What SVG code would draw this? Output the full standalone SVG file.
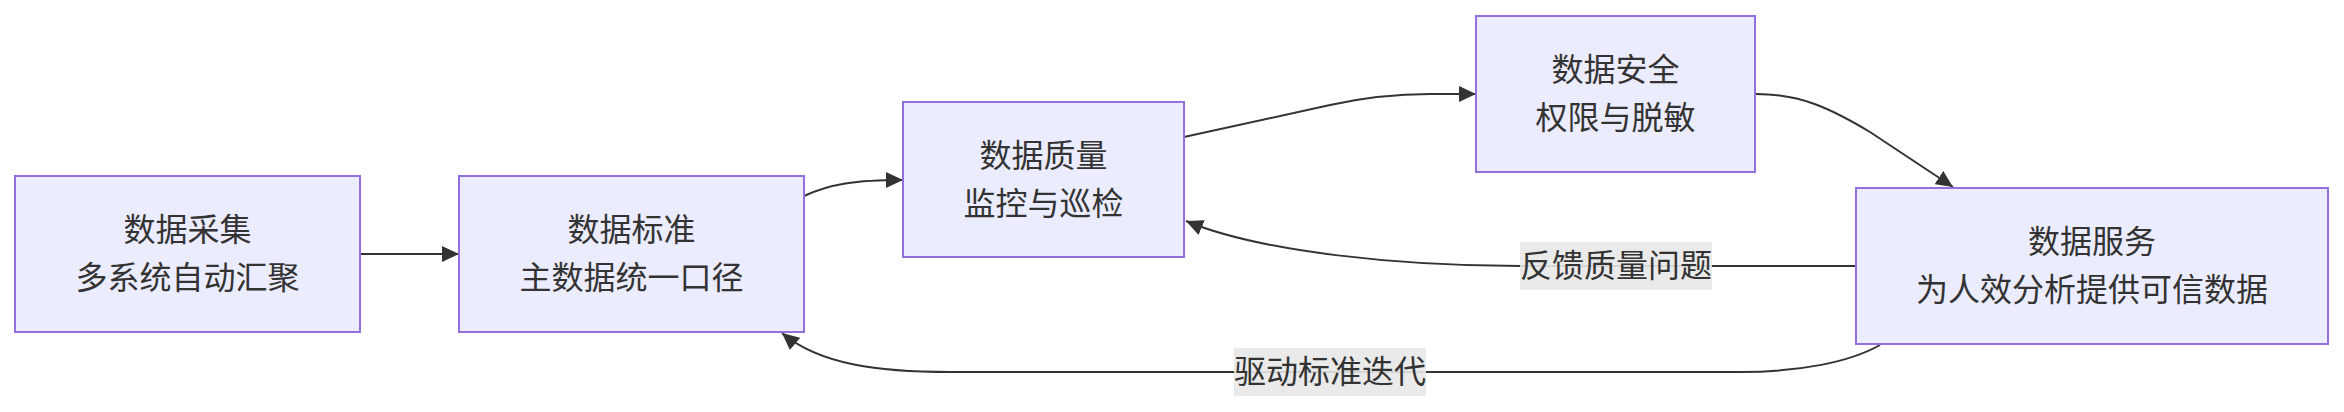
<svg xmlns="http://www.w3.org/2000/svg" width="2344" height="412" viewBox="0 0 2344 412">
<style>
.node rect{fill:#ECECFF;stroke:#9370DB;stroke-width:2}
.node text,.label text{font-family:"Trebuchet MS","Liberation Sans","Noto Sans CJK SC",sans-serif;font-size:32px;fill:#333;text-anchor:middle;dominant-baseline:central}
.edge{fill:none;stroke:#333;stroke-width:2}
.label rect{fill:#e8e8e8;opacity:0.9}
</style>
<defs>
<marker id="arrow" markerUnits="userSpaceOnUse" viewBox="0 0 17 16" refX="17" refY="8" markerWidth="17" markerHeight="16" orient="auto">
<path d="M0,0 L17,8 L0,16 z" fill="#333"/>
</marker>
</defs>
<g id="connectors">
<path class="edge" d="M360,254 L459,254" marker-end="url(#arrow)"/>
<path class="edge" d="M804,196 C830,184 855,180 903,180" marker-end="url(#arrow)"/>
<path class="edge" d="M1184,137 L1330,105 Q1380,94 1430,94 L1476,94" marker-end="url(#arrow)"/>
<path class="edge" d="M1756,94 C1800,94 1830,108 1870,132 L1953,187" marker-end="url(#arrow)"/>
<path class="edge" d="M1855,266 L1520,266 C1400,266 1260,252 1186,221" marker-end="url(#arrow)"/>
<path class="edge" d="M1880,345 C1850,362 1800,372 1740,372 L950,372 C880,372 820,365 782,333" marker-end="url(#arrow)"/>
<g class="label" id="label-feedback"><rect x="1520" y="242" width="192" height="48"/><text x="1616" y="266">反馈质量问题</text></g>
<g class="label" id="label-drive"><rect x="1234" y="348" width="192" height="48"/><text x="1330" y="372">驱动标准迭代</text></g>
</g>
<g class="node" id="node-collect"><rect x="15" y="176" width="345" height="156"/><text x="187.5" y="230">数据采集</text><text x="187.5" y="278">多系统自动汇聚</text></g>
<g class="node" id="node-standard"><rect x="459" y="176" width="345" height="156"/><text x="631.5" y="230">数据标准</text><text x="631.5" y="278">主数据统一口径</text></g>
<g class="node" id="node-quality"><rect x="903" y="102" width="281" height="155"/><text x="1043.5" y="155.5">数据质量</text><text x="1043.5" y="203.5">监控与巡检</text></g>
<g class="node" id="node-security"><rect x="1476" y="16" width="279" height="156"/><text x="1615.5" y="70">数据安全</text><text x="1615.5" y="118">权限与脱敏</text></g>
<g class="node" id="node-service"><rect x="1856" y="188" width="472" height="156"/><text x="2092" y="242">数据服务</text><text x="2092" y="290">为人效分析提供可信数据</text></g>
</svg>
